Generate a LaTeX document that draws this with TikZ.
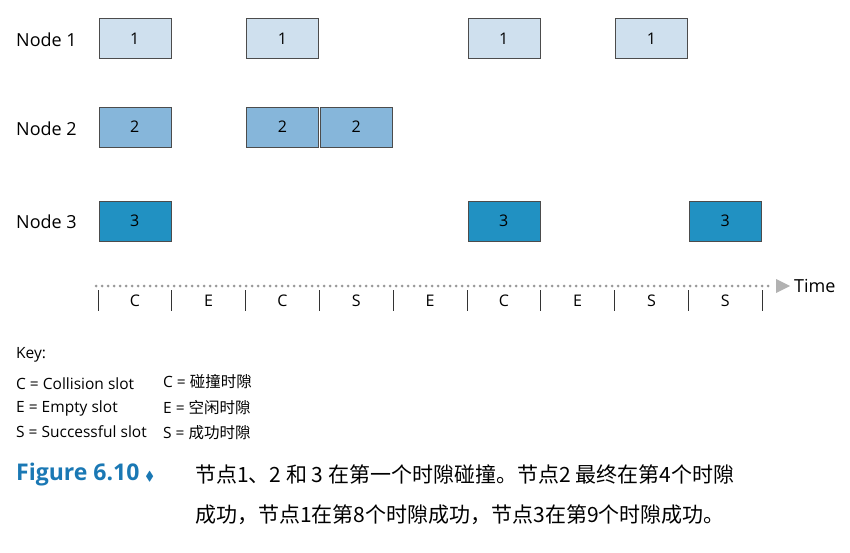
\documentclass[tikz,border=0pt]{standalone}
\usepackage{amssymb}
\usepackage{fontspec}
\setmainfont{Open Sans}
\newfontfamily\cjk{Noto Sans CJK SC}
\usetikzlibrary{arrows.meta}
\definecolor{slotA}{HTML}{CFE0EE}
\definecolor{slotB}{HTML}{86B6DA}
\definecolor{slotC}{HTML}{2191C2}
\definecolor{figblue}{HTML}{1A78B4}
\tikzset{
  slotbox/.style={draw=black!70, line width=0.6pt, minimum width=72pt, minimum height=40pt, inner sep=0pt, font=\fontsize{16}{16}\selectfont},
  rowlabel/.style={anchor=west, inner sep=0pt, font=\fontsize{18}{18}\selectfont},
  keytext/.style={anchor=west, inner sep=0pt, font=\fontsize{15.5}{16}\selectfont},
}
\begin{document}
\begin{tikzpicture}[x=1pt,y=-1pt]
\useasboundingbox (0,0) rectangle (850,553);
% row labels
\node[rowlabel] (n1) at (16,40) {Node 1};
\node[rowlabel] (n2) at (16,129) {Node 2};
\node[rowlabel] (n3) at (16,222) {Node 3};
% transmissions
\foreach \s in {1,3,6,8}
  \node[slotbox, fill=slotA] (a\s) at ({61+73.8*\s},38.5) {1};
\foreach \s in {1,3,4}
  \node[slotbox, fill=slotB] (b\s) at ({61+73.8*\s},127) {2};
\foreach \s in {1,6,9}
  \node[slotbox, fill=slotC] (c\s) at ({61+73.8*\s},221) {3};
% time axis
\coordinate (t0) at (96,286);
\draw[black!40, line width=3pt, dash pattern=on 0pt off 6pt, line cap=round] (t0) -- (770,286);
\draw[draw=none, fill=black!30] (776,279) -- (790,286) -- (776,293) -- cycle;
\node[anchor=west, inner sep=0pt, font=\fontsize{18}{18}\selectfont] (time) at (794,286) {Time};
\foreach \i in {0,...,9}
  \draw[black!80, line width=0.7pt] ({98+73.8*\i},290) -- ({98+73.8*\i},311);
\foreach \l [count=\i] in {C,E,C,S,E,C,E,S,S}
  \node[font=\fontsize{16}{16}\selectfont] (s\i) at ({61+73.8*\i},301) {\l};
% key
\node[keytext] (key) at (16,355) {Key:};
\node[keytext] (k1) at (16,384) {C = Collision slot};
\node[keytext] (k2) at (16,408) {E = Empty slot};
\node[keytext] (k3) at (16,432) {S = Successful slot};
\node[keytext] (c1) at (163,382) {C = {\cjk 碰撞时隙}};
\node[keytext] (c2) at (163,408) {E = {\cjk 空闲时隙}};
\node[keytext] (c3) at (163,433) {S = {\cjk 成功时隙}};
% caption
\node[anchor=west, inner sep=0pt, text=figblue, font=\fontsize{23}{24}\bfseries\selectfont] (fig) at (16,475) {Figure 6.10 {\fontsize{13}{13}\selectfont$\blacklozenge$}};
\node[anchor=west, inner sep=0pt, align=left, font=\cjk\fontsize{21}{40}\selectfont] (cap) at (195,495)
  {节点1、2 和 3 在第一个时隙碰撞。节点2 最终在第4个时隙\\成功，节点1在第8个时隙成功，节点3在第9个时隙成功。};
\end{tikzpicture}
\end{document}
